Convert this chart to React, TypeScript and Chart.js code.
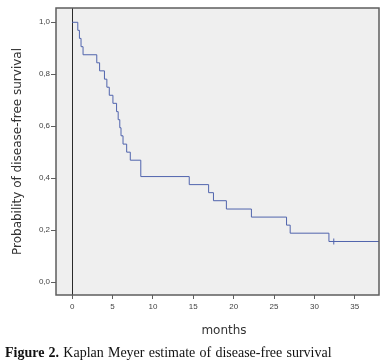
import React, { useEffect, useRef } from "react";
import { Chart, registerables } from "chart.js";

Chart.register(...registerables);

// Kaplan-Meier step points (time in months, survival after the event)
const times = [0, 0.7, 0.9, 1.1, 1.35, 3.05, 3.4, 4.0, 4.3, 4.6, 5.05, 5.5, 5.7, 5.9, 6.05, 6.3, 6.75, 7.2, 8.5, 14.5, 16.9, 17.5, 19.1, 22.2, 26.55, 27.0, 31.8, 38];
const survival = [1.0, 0.969, 0.938, 0.906, 0.875, 0.844, 0.813, 0.781, 0.75, 0.719, 0.688, 0.656, 0.625, 0.594, 0.563, 0.531, 0.5, 0.469, 0.406, 0.375, 0.344, 0.313, 0.281, 0.25, 0.219, 0.188, 0.156, 0.156];
const censorTimes = [32.4];
const censorSurvival = [0.156];

const xTicks = [0, 5, 10, 15, 20, 25, 30, 35];
const yTicks = [0, 0.2, 0.4, 0.6, 0.8, 1.0];
const yTickLabels = ["0,0", "0,2", "0,4", "0,6", "0,8", "1,0"];

const xTitle = "months";
const yTitle = "Probability of disease-free survival";
const captionBold = "Figure 2.";
const captionText = " Kaplan Meyer estimate of disease-free survival";

const W = 386;
const H = 364;

export default function App() {
  const ref = useRef<HTMLCanvasElement | null>(null);

  useEffect(() => {
    if (!ref.current) return;
    const framePlugin = {
      id: "frame",
      beforeDraw(chart: any) {
        const { ctx, chartArea } = chart;
        ctx.save();
        ctx.fillStyle = "#efefef";
        ctx.fillRect(chartArea.left, chartArea.top, chartArea.right - chartArea.left, chartArea.bottom - chartArea.top);
        ctx.restore();
      },
      afterDraw(chart: any) {
        const { ctx, chartArea } = chart;
        ctx.save();
        ctx.strokeStyle = "#5e5e5e";
        ctx.lineWidth = 1.5;
        ctx.strokeRect(chartArea.left, chartArea.top, chartArea.right - chartArea.left, chartArea.bottom - chartArea.top);
        // x axis title
        ctx.fillStyle = "#333";
        ctx.font = "12px 'DejaVu Sans'";
        ctx.textAlign = "center";
        ctx.textBaseline = "middle";
        ctx.fillText(xTitle, 224, 331);
        ctx.restore();
      },
    };

    const chart = new Chart(ref.current, {
      type: "line",
      data: {
        datasets: [
          {
            data: times.map((t, i) => ({ x: t, y: survival[i] })),
            borderColor: "#5064ad",
            borderWidth: 1,
            stepped: true,
            pointRadius: 0,
            fill: false,
          },
          {
            data: censorTimes.map((t, i) => ({ x: t, y: censorSurvival[i] })),
            showLine: false,
            pointStyle: "line",
            rotation: 90,
            pointRadius: 3,
            borderColor: "#5064ad",
            borderWidth: 1,
          },
        ],
      },
      plugins: [framePlugin],
      options: {
        responsive: false,
        animation: false,
        layout: { padding: { left: 0, top: 8, right: 7, bottom: 0 } },
        plugins: { legend: { display: false }, tooltip: { enabled: false } },
        scales: {
          x: {
            type: "linear",
            min: -2,
            max: 38,
            afterFit(scale: any) {
              scale.height = H - 295;
            },
            afterBuildTicks(scale: any) {
              scale.ticks = xTicks.map((v) => ({ value: v }));
            },
            border: { display: false },
            grid: {
              drawOnChartArea: true,
              color: (ctx: any) => (ctx.tick && ctx.tick.value === 0 ? "#2a2a2a" : "rgba(0,0,0,0)"),
              tickColor: "#5e5e5e",
              tickLength: 4,
              lineWidth: 1,
            },
            ticks: {
              padding: 3,
              color: "#444",
              font: { family: "'Liberation Sans'", size: 8 },
              maxRotation: 0,
              autoSkip: false,
              callback: (v: any) => String(v),
            },
          },
          y: {
            type: "linear",
            min: -0.05,
            max: 1.055,
            afterFit(scale: any) {
              scale.width = 56;
            },
            afterBuildTicks(scale: any) {
              scale.ticks = yTicks.map((v) => ({ value: v }));
            },
            border: { display: false },
            grid: {
              drawOnChartArea: false,
              tickColor: "#5e5e5e",
              tickLength: 5,
            },
            ticks: {
              padding: 1,
              color: "#444",
              font: { family: "'Liberation Sans'", size: 8 },
              autoSkip: false,
              callback: (v: any) => {
                const i = yTicks.findIndex((t) => Math.abs(t - v) < 1e-9);
                return i >= 0 ? yTickLabels[i] : "";
              },
            },
            title: {
              display: true,
              text: yTitle,
              color: "#333",
              font: { family: "'DejaVu Sans'", size: 12 },
              padding: { top: 11, bottom: 0 },
            },
          },
        },
      },
    });
    return () => chart.destroy();
  }, []);

  return (
    <div style={{ position: "absolute", left: 0, top: 0, width: W, height: H, background: "#fff" }}>
      <canvas ref={ref} width={W} height={H} style={{ display: "block" }} />
      <div
        style={{
          position: "absolute",
          left: 5,
          top: 345,
          fontFamily: "'Liberation Serif', 'Times New Roman', serif",
          fontSize: 14,
          lineHeight: "16px",
          color: "#111",
          whiteSpace: "nowrap",
          wordSpacing: 0.7,
        }}
      >
        <b>{captionBold}</b>
        {captionText}
      </div>
    </div>
  );
}
